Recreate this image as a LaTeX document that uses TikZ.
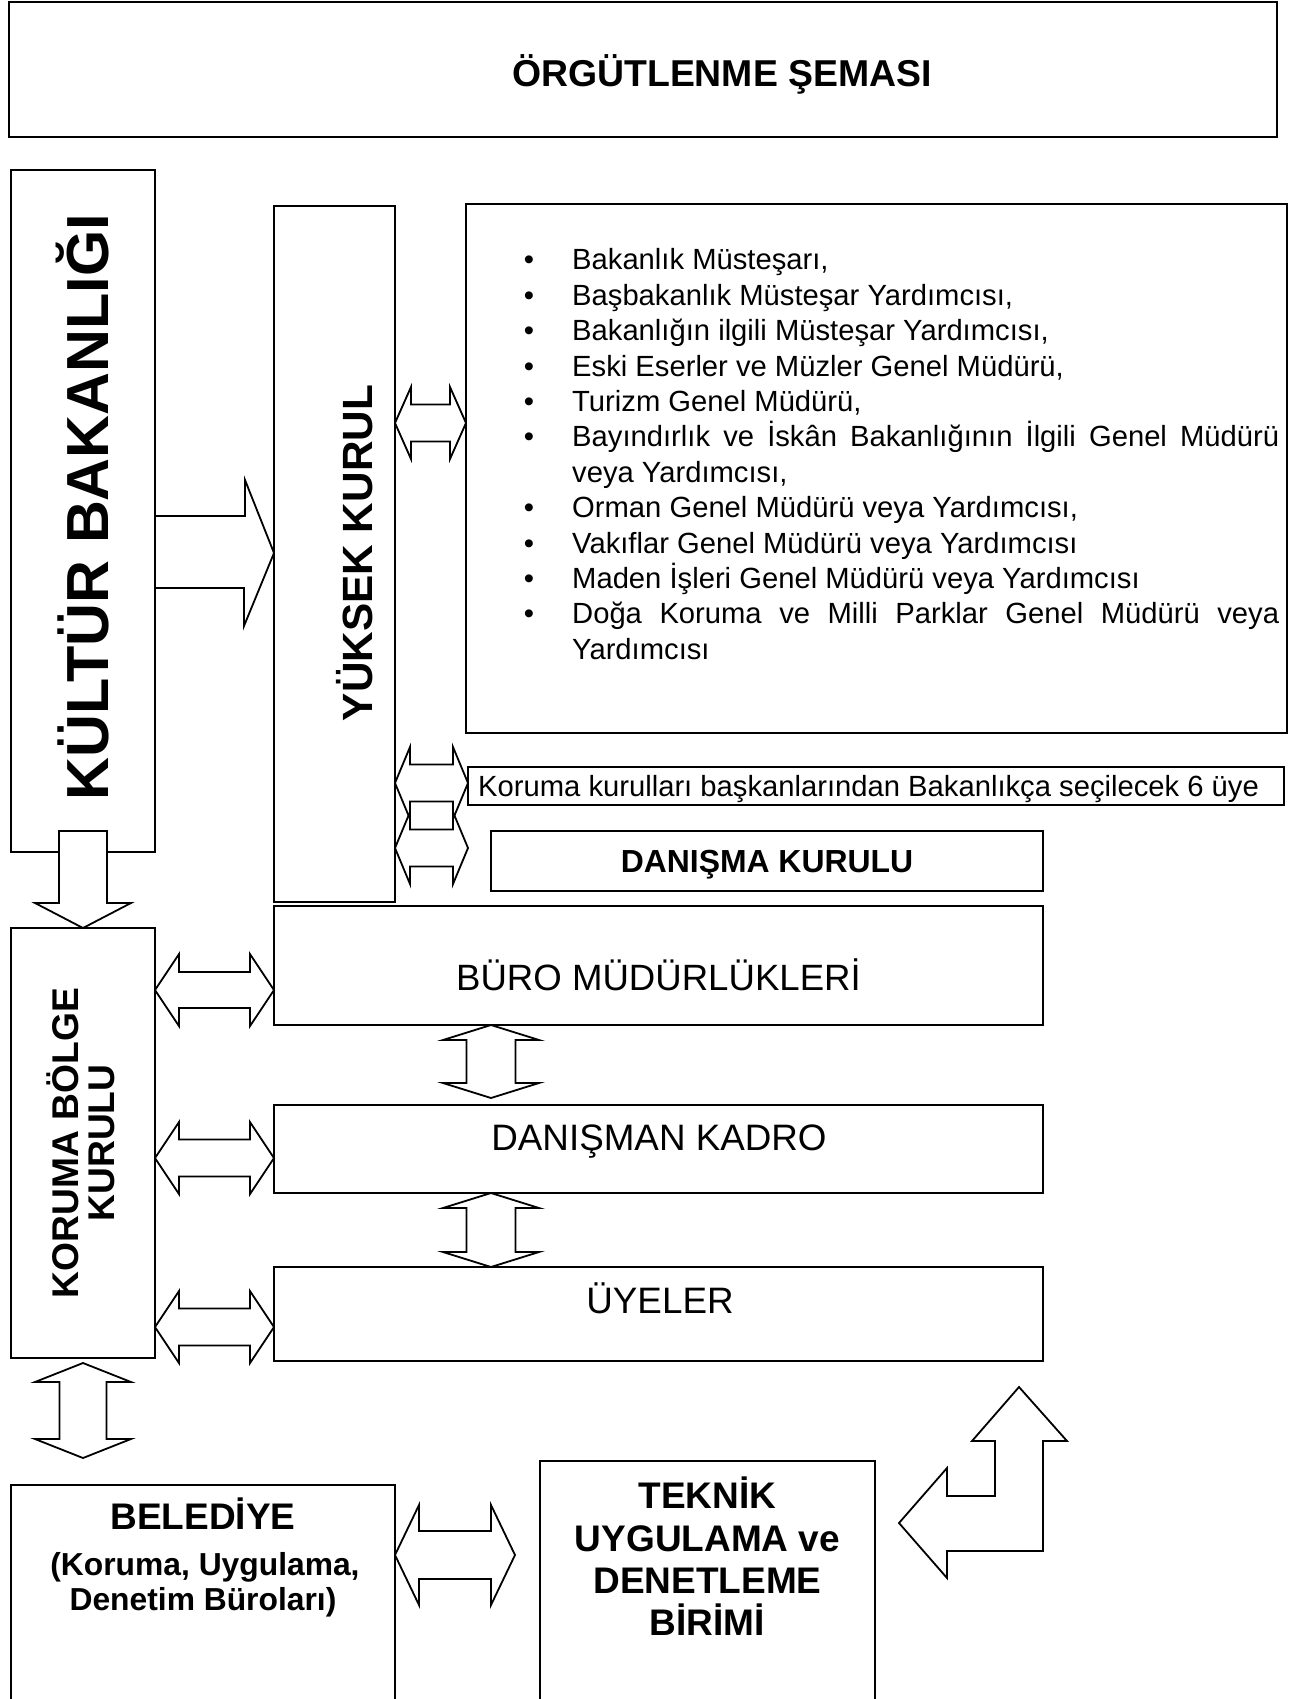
\documentclass[tikz,border=0pt]{standalone}
\usepackage{fontspec}
\setmainfont{Liberation Sans}
\usetikzlibrary{calc,positioning}
\hyphenpenalty=10000\relax

\tikzset{
  kutu/.style={draw, line width=1.8pt, inner sep=0pt, outer sep=0pt, anchor=north west},
  blok/.style={draw, line width=1.8pt, fill=white, line join=miter},
  bos/.style={draw, line width=1.8pt, line join=miter},
  yazi/.style={inner sep=0pt, anchor=base},
}

% cift yonlu yatay ok: [stil]{sol uc}{sag uc}{bas yari}{govde yari}{bas boyu}
\newcommand{\yatayok}[6][blok]{%
  \draw[#1] (#2) -- ($(#2)+(#6,-#4)$) -- ($(#2)+(#6,-#5)$) -- ($(#3)+(-#6,-#5)$)
    -- ($(#3)+(-#6,-#4)$) -- (#3) -- ($(#3)+(-#6,#4)$) -- ($(#3)+(-#6,#5)$)
    -- ($(#2)+(#6,#5)$) -- ($(#2)+(#6,#4)$) -- cycle;}
% cift yonlu dikey ok: [stil]{ust uc}{alt uc}{bas yari}{govde yari}{bas boyu}
\newcommand{\dikeyok}[6][blok]{%
  \draw[#1] (#2) -- ($(#2)+(#4,#6)$) -- ($(#2)+(#5,#6)$) -- ($(#3)+(#5,-#6)$)
    -- ($(#3)+(#4,-#6)$) -- (#3) -- ($(#3)+(-#4,-#6)$) -- ($(#3)+(-#5,-#6)$)
    -- ($(#2)+(-#5,#6)$) -- ($(#2)+(-#4,#6)$) -- cycle;}
\newcommand{\madde}[1]{\noindent\llap{\textbullet\hskip 38pt\relax}#1\par}

\begin{document}
\begin{tikzpicture}[x=1pt, y=-1pt]
    \useasboundingbox (0,0) rectangle (1294,1699);
    \fill[white] (0,0) rectangle (1294,1699);

    % Baslik
    \node[kutu, minimum width=1268pt, minimum height=135pt] (baslik) at (9,2) {};
    \node[yazi, font=\fontsize{37.4}{40}\selectfont\bfseries] (tbaslik) at (722,87) {ÖRGÜTLENME ŞEMASI};

    % Kutular
    \node[kutu, minimum width=144pt, minimum height=682pt] (kultur) at (11,170) {};
    \node[kutu, minimum width=121pt, minimum height=696pt] (yuksek) at (274,206) {};
    \node[kutu, minimum width=821pt, minimum height=529pt] (liste) at (466,204) {};
    \node[kutu, minimum width=816pt, minimum height=38pt] (korkur) at (468,767) {};
    \node[kutu, minimum width=552pt, minimum height=60pt] (danisma) at (491,831) {};
    \node[kutu, minimum width=769pt, minimum height=119pt] (buro) at (274,906) {};
    \node[kutu, minimum width=769pt, minimum height=88pt] (kadro) at (274,1105) {};
    \node[kutu, minimum width=769pt, minimum height=94pt] (uye) at (274,1267) {};
    \node[kutu, minimum width=144pt, minimum height=430pt] (kbolge) at (11,928) {};
    \node[kutu, minimum width=384pt, minimum height=240pt] (belediye) at (11,1485) {};
    \node[kutu, minimum width=335pt, minimum height=264pt] (teknik) at (540,1461) {};

    % Dikey yazilar
    \node[yazi, rotate=90, font=\fontsize{59.4}{60}\selectfont\bfseries] (tkultur) at (108,507) {KÜLTÜR BAKANLIĞI};
    \node[yazi, rotate=90, font=\fontsize{42.3}{44}\selectfont\bfseries] (tyuksek) at (372,553) {YÜKSEK KURUL};
    \node[yazi, rotate=90, font=\fontsize{37.2}{38}\selectfont\bfseries] (tkbolge1) at (78,1143) {KORUMA BÖLGE};
    \node[yazi, rotate=90, font=\fontsize{37.2}{38}\selectfont\bfseries] (tkbolge2) at (114,1143) {KURULU};

    % Uyeler listesi
    \node[anchor=north west, inner sep=0pt, text width=707pt, align=justify,
          font=\fontsize{29.2}{35.4}\selectfont] (maddeler) at (572,248.6) {%
        \madde{Bakanlık Müsteşarı,}
        \madde{Başbakanlık Müsteşar Yardımcısı,}
        \madde{Bakanlığın ilgili Müsteşar Yardımcısı,}
        \madde{Eski Eserler ve Müzler Genel Müdürü,}
        \madde{Turizm Genel Müdürü,}
        \madde{Bayındırlık ve İskân Bakanlığının İlgili Genel Müdürü veya Yardımcısı,}
        \madde{Orman Genel Müdürü veya Yardımcısı,}
        \madde{Vakıflar Genel Müdürü veya Yardımcısı}
        \madde{Maden İşleri Genel Müdürü veya Yardımcısı}
        \madde{Doğa Koruma ve Milli Parklar Genel Müdürü veya Yardımcısı}};

    % Kutu yazilari
    \node[yazi, anchor=base west, font=\fontsize{29.2}{34}\selectfont] (tkorkur) at (478,796) {Koruma kurulları başkanlarından Bakanlıkça seçilecek 6 üye};
    \node[yazi, font=\fontsize{31.9}{34}\selectfont\bfseries] (tdanisma) at (767,872) {DANIŞMA KURULU};
    \node[yazi, font=\fontsize{36.6}{40}\selectfont] (tburo) at (658.5,990) {BÜRO MÜDÜRLÜKLERİ};
    \node[yazi, font=\fontsize{36.8}{40}\selectfont] (tkadro) at (659,1150) {DANIŞMAN KADRO};
    \node[yazi, font=\fontsize{36.8}{40}\selectfont] (tuye) at (660,1313) {ÜYELER};
    \node[yazi, font=\fontsize{37}{40}\selectfont\bfseries] (tbel1) at (203,1529) {BELEDİYE};
    \node[yazi, font=\fontsize{31.8}{34}\selectfont\bfseries] (tbel2) at (205,1575) {(Koruma, Uygulama,};
    \node[yazi, font=\fontsize{31.8}{34}\selectfont\bfseries] (tbel3) at (203,1610) {Denetim Büroları)};
    \foreach \satir/\y in {TEKNİK/1508, UYGULAMA ve/1551, DENETLEME/1593, BİRİMİ/1635} {
        \node[yazi, font=\fontsize{37}{40}\selectfont\bfseries] (tek\y) at (707.5,\y) {\satir};
    }

    % Bloklu oklar
    \draw[blok] (kultur.east |- 0,516) -- ++(90,0) -- ++(0,-36) -- (yuksek.west |- 0,553)
        -- ++(-30,73) -- ++(0,-38) -- (kultur.east |- 0,588) -- cycle;
    \draw[blok] (kbolge.north) -- ++(-48,-25) -- ++(24,0) -- ++(0,-72) -- ++(48,0)
        -- ++(0,72) -- ++(24,0) -- cycle;

    \yatayok{yuksek.east |- 0,423}{liste.west |- 0,423}{36}{18.5}{16}
    \yatayok[bos]{yuksek.east |- 0,783}{korkur.west |- 0,783}{36}{18.5}{15}
    \yatayok[bos]{yuksek.east |- 0,848}{korkur.west |- 0,848}{36}{18.5}{15}
    \yatayok{kbolge.east |- 0,990}{buro.west |- 0,990}{36}{18}{24}
    \yatayok{kbolge.east |- 0,1158}{kadro.west |- 0,1158}{36}{18.5}{24}
    \yatayok{kbolge.east |- 0,1327}{uye.west |- 0,1327}{36}{18.5}{24}

    \coordinate (kadroust) at (491,1098);
    \coordinate (belust) at (83,1458);
    \coordinate (tekucu) at (515,1555);
    \dikeyok{buro.south -| 491,0}{kadroust}{48}{24.5}{15}
    \dikeyok{kadro.south -| 491,0}{uye.north -| 491,0}{48}{24.5}{15}
    \dikeyok{$(kbolge.south)+(0,5)$}{belust}{48}{23.5}{19}
    \yatayok{belediye.east |- tekucu}{tekucu}{50}{24}{24}

    % Kose ok
    \draw[blok] (1019,1387) -- (1067,1441) -- (1043,1441) -- (1043,1551) -- (947,1551)
        -- (947,1578) -- (899,1523) -- (947,1468) -- (947,1496) -- (995,1496)
        -- (995,1441) -- (972,1441) -- cycle;
\end{tikzpicture}
\end{document}
